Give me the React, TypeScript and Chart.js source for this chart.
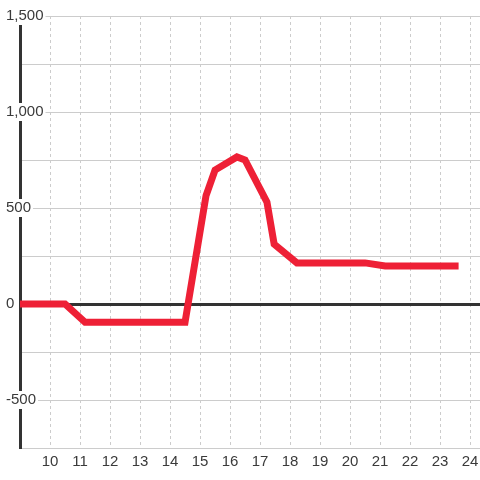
import React, { useEffect, useRef } from 'react';
import { Chart, registerables } from 'chart.js';

Chart.register(...registerables);

// Data (hours of day vs. value)
const hours = [9, 10.5, 11.17, 14.5, 15.2, 15.5, 16.23, 16.5, 17.23, 17.47, 18.23, 20.5, 21.17, 23.5];
const values = [0, 0, -95, -95, 565, 698, 766, 750, 531, 312, 214, 214, 198, 198];

const xTickValues = [10, 11, 12, 13, 14, 15, 16, 17, 18, 19, 20, 21, 22, 23, 24];
const xMin = 9;
const xMax = 24.33;
const yMin = -750;
const yMax = 1500;
const yStep = 250;
const yLabelStep = 500;

const LINE_RED = '#ee2036';
const GRID = '#cccccc';
const DARK = '#333333';
const TEXT = '#3a3a3a';

export default function App() {
  const ref = useRef<HTMLCanvasElement | null>(null);

  useEffect(() => {
    if (!ref.current) return;
    const chart = new Chart(ref.current, {
      type: 'line',
      data: {
        datasets: [
          {
            data: hours.map((h, i) => ({ x: h, y: values[i] })),
            borderColor: LINE_RED,
            backgroundColor: LINE_RED,
            borderWidth: 7,
            pointRadius: 0,
            tension: 0,
            borderCapStyle: 'square',
            borderJoinStyle: 'miter',
            fill: false,
          },
        ],
      },
      options: {
        responsive: false,
        animation: false,
        layout: { padding: { top: 16, right: 0, left: 0, bottom: 0 } },
        plugins: { legend: { display: false }, tooltip: { enabled: false } },
        scales: {
          x: {
            type: 'linear',
            min: xMin,
            max: xMax,
            afterBuildTicks: (scale: any) => {
              scale.ticks = xTickValues.map((v) => ({ value: v }));
            },
            afterFit: (scale: any) => {
              scale.height = 32;
            },
            grid: {
              color: GRID,
              lineWidth: 1,
              drawTicks: true,
              tickLength: 5,
              tickColor: 'transparent',
            },
            border: { display: true, color: GRID, width: 1, dash: [3, 3] },
            ticks: {
              padding: 0,
              color: TEXT,
              font: { family: 'Arial', size: 15 },
              maxRotation: 0,
              autoSkip: false,
              callback: (v: any) => String(v),
            },
          },
          y: {
            type: 'linear',
            min: yMin,
            max: yMax,
            afterFit: (scale: any) => {
              scale.width = 20;
            },
            grid: {
              color: (ctx: any) => (ctx.tick && ctx.tick.value === 0 ? DARK : GRID),
              lineWidth: (ctx: any) => (ctx.tick && ctx.tick.value === 0 ? 3 : 1),
              drawTicks: false,
            },
            border: { display: true, color: DARK, width: 3 },
            ticks: {
              stepSize: yStep,
              mirror: true,
              padding: -14,
              color: TEXT,
              font: { family: 'Arial', size: 15 },
              showLabelBackdrop: (ctx: any) => ctx.tick && ctx.tick.value % yLabelStep === 0,
              backdropColor: '#ffffff',
              backdropPadding: { left: 2, right: 2, top: 0, bottom: 0 },
              callback: (v: any) =>
                Number(v) % yLabelStep === 0 ? Number(v).toLocaleString('en-US') : '',
            },
          },
        },
      },
    } as any);
    return () => chart.destroy();
  }, []);

  return (
    <div style={{ position: 'fixed', left: 0, top: 0, width: 480, height: 480, background: '#ffffff' }}>
      <canvas ref={ref} width={480} height={480} style={{ width: 480, height: 480 }} />
    </div>
  );
}
